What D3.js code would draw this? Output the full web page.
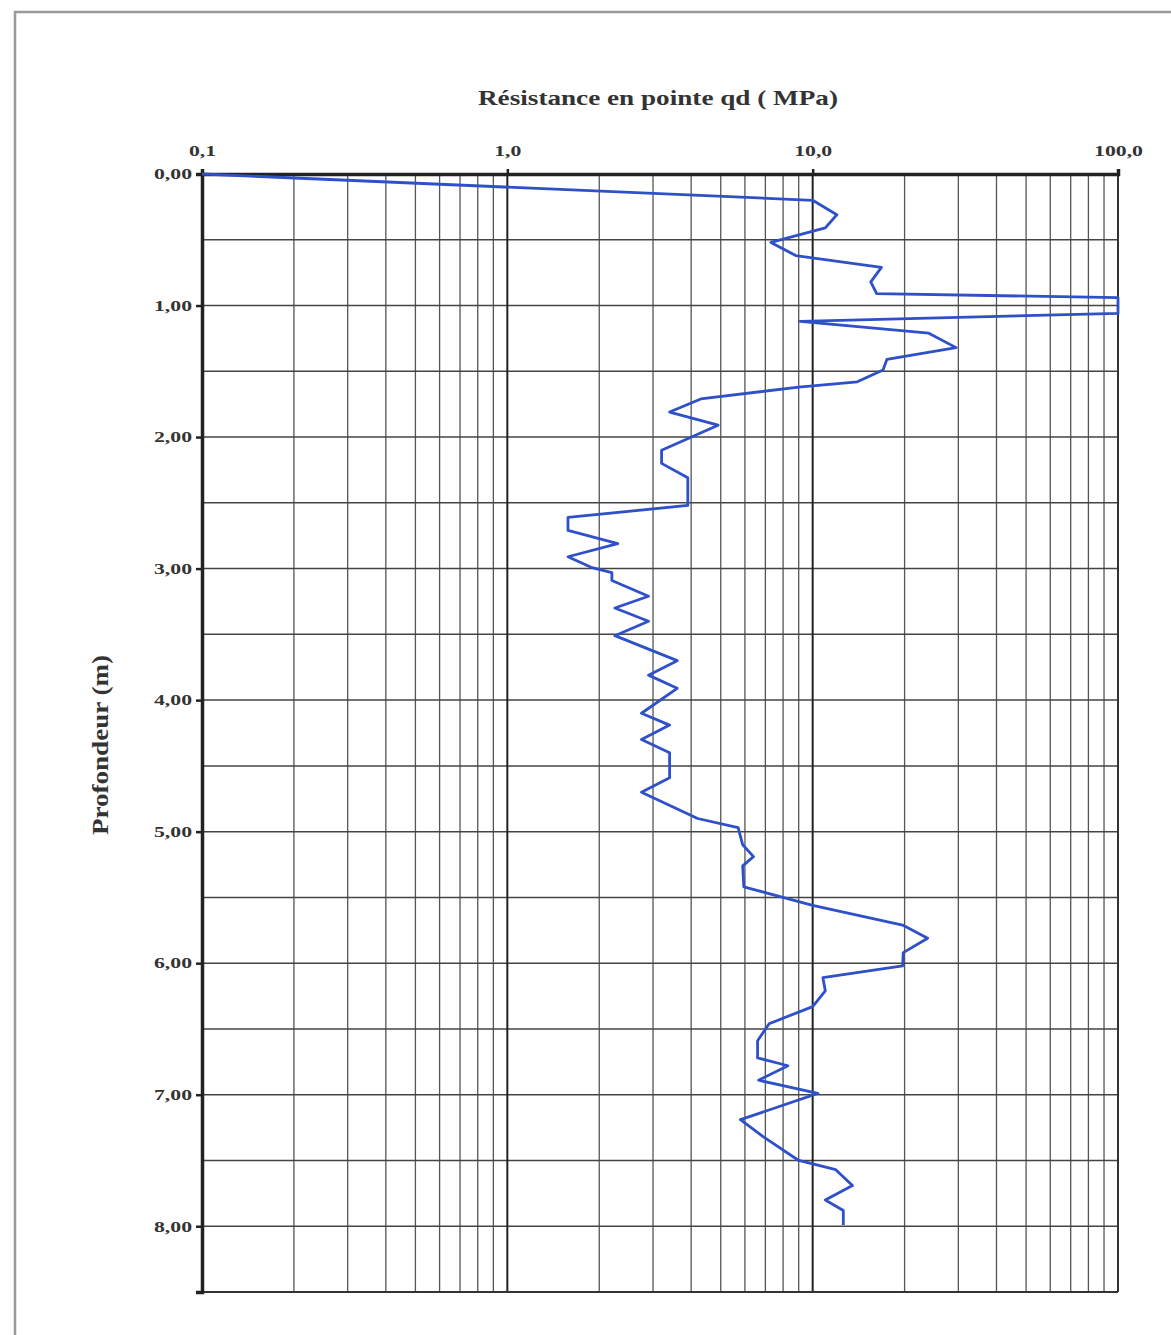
<!DOCTYPE html>
<html>
<head>
<meta charset="utf-8">
<script src="https://cdn.jsdelivr.net/npm/d3@7"></script>
<style>
body { margin:0; background:#fff; }
text { font-family: "Liberation Serif", "Times New Roman", serif; font-weight:bold; fill:#333; }
</style>
</head>
<body>
<svg id="chart" width="1171" height="1335"></svg>
<script>
var depth = [0, 0.2, 0.31, 0.41, 0.52, 0.62, 0.71, 0.82, 0.91, 0.94, 1.06, 1.12, 1.21, 1.32, 1.41, 1.49,
  1.58, 1.62, 1.71, 1.81, 1.91, 2.10, 2.20, 2.31, 2.52, 2.61, 2.71, 2.81, 2.91, 2.99, 3.03, 3.09,
  3.21, 3.30, 3.40, 3.51, 3.70, 3.81, 3.91, 4.10, 4.19, 4.30, 4.40, 4.59, 4.70, 4.90, 4.97, 5.10,
  5.19, 5.26, 5.42, 5.56, 5.71, 5.81, 5.92, 6.02, 6.11, 6.21, 6.33, 6.46, 6.59, 6.72, 6.78, 6.89,
  6.99, 7.19, 7.32, 7.50, 7.57, 7.69, 7.80, 7.88, 7.99];
var qd = [0.1, 10, 12, 11, 7.3, 8.8, 16.8, 15.5, 16.2, 100, 100, 9.1, 24, 29.5, 17.5, 17,
  14, 9.0, 4.3, 3.4, 4.9, 3.2, 3.2, 3.9, 3.9, 1.58, 1.58, 2.3, 1.58, 1.88, 2.2, 2.2,
  2.9, 2.25, 2.9, 2.25, 3.6, 2.9, 3.6, 2.75, 3.4, 2.75, 3.4, 3.4, 2.75, 4.2, 5.7, 5.9,
  6.4, 5.9, 5.95, 10, 19.7, 23.8, 19.8, 19.7, 10.8, 11, 10, 7.2, 6.6, 6.6, 8.3, 6.65,
  10.4, 5.8, 6.9, 9.0, 11.9, 13.5, 11.0, 12.6, 12.6];
var xTicks = [0.1, 1, 10, 100];
var yTicks = [0, 1, 2, 3, 4, 5, 6, 7, 8];

var svg = d3.select("#chart");
var fr = d3.formatLocale({decimal: ",", thousands: " ", grouping: [3], currency: ["", " €"]});

var x = d3.scaleLog().domain([0.1, 100]).range([202, 1118]);
var y = d3.scaleLinear().domain([0, 8.5]).range([174, 1292]);

// outer frame (only top/left visible)
svg.append("path").attr("d", "M15,1335 V12 H1171")
  .attr("fill", "none").attr("stroke", "#999").attr("stroke-width", 2.5);

// grid
var minor = [];
[0.1, 1, 10].forEach(function(dec) {
  for (var k = 2; k <= 9; k++) minor.push(dec * k);
});
svg.append("g").selectAll("line").data(minor).enter().append("line")
  .attr("x1", function(d) { return x(d); }).attr("x2", function(d) { return x(d); })
  .attr("y1", y(0)).attr("y2", y(8.5))
  .attr("stroke", "#555").attr("stroke-width", 1.3);
svg.append("g").selectAll("line").data(d3.range(0.5, 8.5, 0.5)).enter().append("line")
  .attr("x1", x(0.1)).attr("x2", x(100))
  .attr("y1", function(d) { return y(d); }).attr("y2", function(d) { return y(d); })
  .attr("stroke", "#444").attr("stroke-width", 1.5);
svg.append("g").selectAll("line").data([1, 10]).enter().append("line")
  .attr("x1", function(d) { return x(d); }).attr("x2", function(d) { return x(d); })
  .attr("y1", y(0)).attr("y2", y(8.5))
  .attr("stroke", "#222").attr("stroke-width", 2);
// right / bottom borders
svg.append("line").attr("x1", x(100)).attr("x2", x(100)).attr("y1", y(0)).attr("y2", y(8.5))
  .attr("stroke", "#333").attr("stroke-width", 2);
svg.append("line").attr("x1", x(0.1)).attr("x2", x(100)).attr("y1", y(8.5)).attr("y2", y(8.5))
  .attr("stroke", "#333").attr("stroke-width", 2);

// axes
var xAxis = svg.append("g").attr("transform", "translate(0," + y(0) + ")")
  .call(d3.axisTop(x).tickValues(xTicks).tickSize(5).tickPadding(13).tickFormat(fr.format(".1f")));
var yAxis = svg.append("g").attr("transform", "translate(" + x(0.1) + ",0)")
  .call(d3.axisLeft(y).tickValues(yTicks).tickSize(6).tickPadding(4).tickFormat(fr.format(".2f")));
[xAxis, yAxis].forEach(function(g) {
  g.select(".domain").attr("stroke", "#222").attr("stroke-width", 3.5);
  g.selectAll(".tick line").attr("stroke", "#222").attr("stroke-width", 2.5);
  g.selectAll(".tick text").style("font-size", "15px").attr("fill", "#333")
    .each(function() {
      var w = this.getComputedTextLength();
      d3.select(this).attr("textLength", w * 1.45).attr("lengthAdjust", "spacingAndGlyphs");
    });
});

// curve
var line = d3.line()
  .x(function(d, i) { return x(qd[i]); })
  .y(function(d) { return y(d); });
svg.append("path").datum(depth)
  .attr("d", line)
  .attr("fill", "none")
  .attr("stroke", "#2e50c8")
  .attr("stroke-width", 2.8)
  .attr("stroke-linejoin", "round");

// titles
svg.append("text").attr("x", 658).attr("y", 105).attr("text-anchor", "middle")
  .style("font-size", "21px").attr("textLength", 360).attr("lengthAdjust", "spacingAndGlyphs")
  .text("Résistance en pointe qd ( MPa)");
svg.append("text").attr("transform", "translate(108,745) rotate(-90)").attr("text-anchor", "middle")
  .style("font-size", "24px").attr("textLength", 180).attr("lengthAdjust", "spacingAndGlyphs")
  .text("Profondeur (m)");
</script>
</body>
</html>
